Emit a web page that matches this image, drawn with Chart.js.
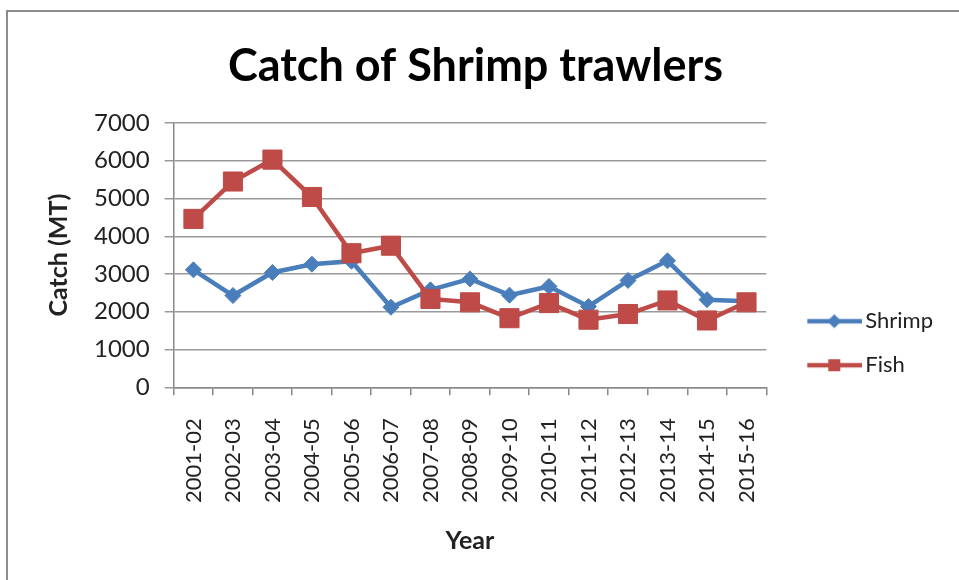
<!DOCTYPE html>
<html>
<head>
<meta charset="utf-8">
<script src="https://cdn.jsdelivr.net/npm/chart.js@4.4.1/dist/chart.umd.min.js"></script>
<style>
  html, body { margin: 0; padding: 0; background: #fff; overflow: hidden; width: 959px; height: 580px; }
  #frame { position: absolute; left: 6px; top: 10px; width: 1000px; height: 1000px;
           border-top: 2px solid #8c8c8c; border-left: 2px solid #8c8c8c; }
  #wrap { position: absolute; left: 8px; top: 12px; width: 958px; height: 568px; }
</style>
</head>
<body>
<div id="frame"></div>
<div id="wrap"><canvas id="chart"></canvas></div>
<script>
// data
const years = ['2001-02', '2002-03', '2003-04', '2004-05', '2005-06', '2006-07', '2007-08', '2008-09',
               '2009-10', '2010-11', '2011-12', '2012-13', '2013-14', '2014-15', '2015-16'];
const shrimp = [3110, 2430, 3040, 3260, 3340, 2120, 2580, 2870, 2440, 2670, 2140, 2830, 3350, 2320, 2280];
const fish = [4460, 5450, 6030, 5040, 3550, 3750, 2340, 2250, 1830, 2230, 1790, 1940, 2300, 1770, 2250];
const yTicks = [0, 1000, 2000, 3000, 4000, 5000, 6000, 7000];

const BLUE = '#4A7EBB';
const RED = '#BE4B48';
const FONT = 'Lato, "Open Sans", sans-serif';

// legend icon: line with the marker in the middle, like the Excel legend
function legendIcon(color, shape) {
    const c = document.createElement('canvas');
    c.width = 82;
    c.height = 20;
    const g = c.getContext('2d');
    g.strokeStyle = color;
    g.fillStyle = color;
    g.lineWidth = 4.5;
    g.beginPath();
    g.moveTo(27, 10);
    g.lineTo(82, 10);
    g.stroke();
    g.beginPath();
    if (shape === 'diamond') {
        g.moveTo(54, 3); g.lineTo(61, 10); g.lineTo(54, 17); g.lineTo(47, 10);
        g.closePath();
    } else {
        g.rect(48, 4, 12, 12);
    }
    g.fill();
    return c;
}
const icons = [legendIcon(BLUE, 'diamond'), legendIcon(RED, 'square')];

new Chart(document.getElementById('chart'), {
    type: 'line',
    data: {
        labels: years,
        datasets: [
            { label: 'Shrimp', data: shrimp, order: 2, borderColor: BLUE, backgroundColor: BLUE,
              borderWidth: 4.5, pointStyle: 'rectRot', pointRadius: 8, pointHoverRadius: 8,
              pointBorderWidth: 1, tension: 0 },
            { label: 'Fish', data: fish, order: 1, borderColor: RED, backgroundColor: RED,
              borderWidth: 4.5, pointStyle: 'rect', pointRadius: 13.5, pointHoverRadius: 13.5,
              pointBorderWidth: 1, tension: 0 }
        ]
    },
    options: {
        responsive: true,
        maintainAspectRatio: false,
        animation: false,
        layout: { padding: { left: 0, right: 23, top: 0, bottom: 0 } },
        plugins: {
            title: {
                display: true,
                text: 'Catch of Shrimp trawlers',
                color: '#000',
                font: { family: FONT, size: 45, weight: 'bold' },
                padding: { top: 27, bottom: 30 }
            },
            legend: {
                position: 'right',
                fullSize: true,
                align: 'center',
                title: { display: true, text: '', padding: { top: 80, bottom: 0 } },
                labels: {
                    usePointStyle: true,
                    pointStyleWidth: 66,
                    padding: 22,
                    color: '#222',
                    font: { family: FONT, size: 22 },
                    sort: (a, b) => a.datasetIndex - b.datasetIndex,
                    generateLabels: function(chart) {
                        const items = Chart.defaults.plugins.legend.labels.generateLabels(chart);
                        items.forEach(item => { item.pointStyle = icons[item.datasetIndex]; });
                        return items;
                    }
                }
            },
            tooltip: { enabled: false }
        },
        scales: {
            x: {
                offset: true,
                grid: { offset: true, drawOnChartArea: false, tickLength: 8, color: '#888', lineWidth: 1.5 },
                border: { color: '#888', width: 1.5 },
                ticks: { autoSkip: false, minRotation: 90, maxRotation: 90, padding: 23,
                         color: '#222', font: { family: FONT, size: 22 } },
                title: { display: true, text: 'Year', color: '#222',
                         font: { family: FONT, size: 25, weight: 'bold' },
                         padding: { top: 0, bottom: 24 } }
            },
            y: {
                min: yTicks[0],
                max: yTicks[yTicks.length - 1],
                afterBuildTicks: axis => { axis.ticks = yTicks.map(v => ({ value: v })); },
                grid: { color: '#9a9a9a', lineWidth: 1.5, tickLength: 9 },
                border: { color: '#888', width: 1.5 },
                ticks: { padding: 15, color: '#222', font: { family: FONT, size: 24 },
                         callback: v => String(v) },
                title: { display: true, text: 'Catch (MT)', color: '#222',
                         font: { family: FONT, size: 25, weight: 'bold' },
                         padding: { top: 36, bottom: 5 } }
            }
        }
    }
});
</script>
</body>
</html>
